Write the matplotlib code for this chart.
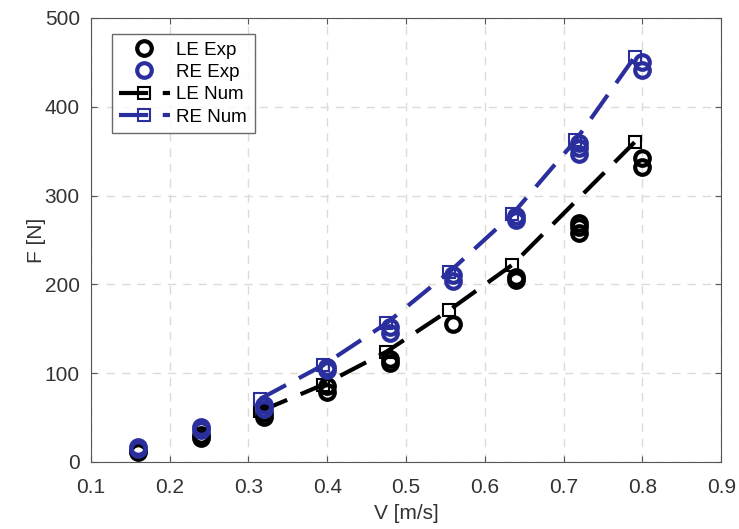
import matplotlib
matplotlib.use("Agg")
import matplotlib.pyplot as plt

plt.rcParams['font.family'] = ['Liberation Sans', 'DejaVu Sans']

# experimental points (repeated runs at each speed)
le_exp_v = [0.16, 0.16, 0.24, 0.24, 0.32, 0.32, 0.40, 0.40, 0.48, 0.48,
            0.56, 0.64, 0.64, 0.72, 0.72, 0.72, 0.80, 0.80]
le_exp_f = [11, 13, 27, 30, 50, 55, 79, 85, 111, 116,
            155, 205, 208, 258, 264, 269, 332, 342]
re_exp_v = [0.16, 0.16, 0.24, 0.24, 0.32, 0.32, 0.40, 0.40, 0.48, 0.48,
            0.56, 0.56, 0.64, 0.64, 0.72, 0.72, 0.72, 0.80, 0.80]
re_exp_f = [14, 17, 36, 39, 60, 64, 104, 107, 145, 152,
            204, 210, 272, 277, 347, 353, 359, 441, 450]

# numerical results
le_num_v = [0.315, 0.395, 0.475, 0.555, 0.635, 0.79]
le_num_f = [57, 87, 124, 171, 222, 360]
re_num_v = [0.315, 0.395, 0.475, 0.555, 0.635, 0.715, 0.79]
re_num_f = [71, 109, 156, 214, 279, 362, 456]

blue = '#2b2f9e'

fig = plt.figure(figsize=(7.39, 5.29), dpi=100)
ax = fig.add_axes([0.123, 0.127, 0.853, 0.839])

ax.plot(le_exp_v, le_exp_f, 'o', ms=10.5, mfc='none', mec='black', mew=3,
        ls='none', label='LE Exp', zorder=3)
ax.plot(re_exp_v, re_exp_f, 'o', ms=10.5, mfc='none', mec=blue, mew=3,
        ls='none', label='RE Exp', zorder=3)
ax.plot(le_num_v, le_num_f, color='black', ls=(0, (7, 3.5)), lw=3,
        marker='s', ms=9, mfc='none', mec='black', mew=1.5,
        label='LE Num', zorder=2)
ax.plot(re_num_v, re_num_f, color=blue, ls=(0, (7, 3.5)), lw=3,
        marker='s', ms=9, mfc='none', mec=blue, mew=1.5,
        label='RE Num', zorder=2)

ax.set_xlim(0.1, 0.9)
ax.set_ylim(0, 500)
ax.set_xticks([0.1, 0.2, 0.3, 0.4, 0.5, 0.6, 0.7, 0.8, 0.9])
ax.set_yticks([0, 100, 200, 300, 400, 500])
ax.grid(True, color='#e0dad6', ls=(0, (6, 5)), lw=1.0)
ax.set_axisbelow(True)
for s in ax.spines.values():
    s.set_color('#555555')
ax.tick_params(axis='both', labelsize=15, colors='#555555', direction='in',
               length=4, top=True, right=True, labelcolor='#333333')
ax.tick_params(axis='x', pad=12)
ax.tick_params(axis='y', pad=8)
ax.set_xlabel('V [m/s]', fontsize=15, color='#333333', labelpad=5)
ax.set_ylabel('F [N]', fontsize=15, color='#333333', labelpad=-1)

leg = ax.legend(loc='upper left', bbox_to_anchor=(0.018, 0.985), fontsize=13.5,
                frameon=True, fancybox=False, edgecolor='#444444',
                handlelength=2.7, borderpad=0.4, labelspacing=0.28,
                handletextpad=0.35)
leg.get_frame().set_linewidth(1.0)

fig.savefig('out.png', dpi=100)
